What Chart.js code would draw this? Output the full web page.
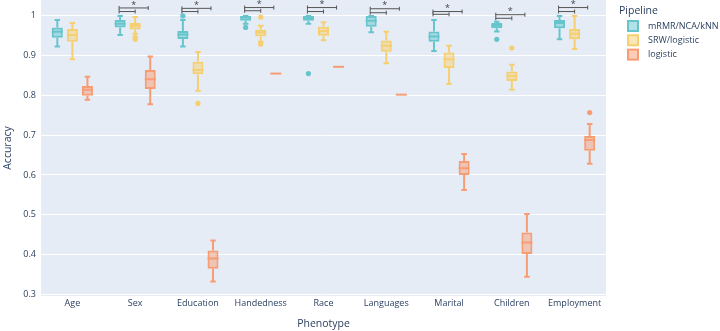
<!DOCTYPE html>
<html>
<head>
<meta charset="utf-8">
<title>Accuracy by phenotype</title>
<script src="https://cdn.jsdelivr.net/npm/chart.js@4.4.0/dist/chart.umd.min.js"></script>
<style>
  html, body { margin: 0; padding: 0; background: #fff; }
  #wrap { width: 720px; height: 331px; }
</style>
</head>
<body>
<div id="wrap"><canvas id="chart"></canvas></div>
<script>
// categories and series
const phenotypes = ["Age", "Sex", "Education", "Handedness", "Race", "Languages", "Marital", "Children", "Employment"];
const pipelines = ["mRMR/NCA/kNN", "SRW/logistic", "logistic"];

// each box: [min, q1, median, q3, max]
const knnBoxes = [
  [0.923, 0.945, 0.960, 0.971, 0.990],
  [0.952, 0.971, 0.980, 0.990, 1.000],
  [0.923, 0.942, 0.953, 0.962, 0.990],
  [0.980, 0.988, 0.996, 1.000, 1.000],
  [0.980, 0.988, 0.995, 1.000, 1.000],
  [0.959, 0.973, 0.988, 1.000, 1.000],
  [0.912, 0.935, 0.948, 0.961, 0.990],
  [0.961, 0.969, 0.976, 0.982, 0.985],
  [0.941, 0.969, 0.982, 0.990, 1.000]
];
const knnOutliers = [[], [], [1.0], [0.971], [0.855], [], [], [0.941], []];

const srwBoxes = [
  [0.891, 0.935, 0.952, 0.967, 0.982],
  [0.955, 0.966, 0.975, 0.982, 0.997],
  [0.812, 0.853, 0.864, 0.885, 0.909],
  [0.935, 0.948, 0.958, 0.965, 0.975],
  [0.939, 0.950, 0.962, 0.973, 0.984],
  [0.881, 0.910, 0.925, 0.938, 0.960],
  [0.829, 0.869, 0.891, 0.908, 0.925],
  [0.814, 0.836, 0.849, 0.860, 0.877],
  [0.917, 0.941, 0.955, 0.967, 1.000]
];
const srwOutliers = [[], [0.946, 0.941], [0.780], [0.997, 0.929], [], [], [], [0.919], []];

const logisticBoxes = [
  [0.789, 0.799, 0.814, 0.824, 0.847],
  [0.778, 0.816, 0.841, 0.864, 0.898],
  [0.332, 0.364, 0.390, 0.410, 0.435],
  [0.855, 0.855, 0.855, 0.855, 0.855],
  [0.872, 0.872, 0.872, 0.872, 0.872],
  [0.802, 0.802, 0.802, 0.802, 0.802],
  [0.562, 0.600, 0.617, 0.635, 0.653],
  [0.344, 0.401, 0.430, 0.455, 0.502],
  [0.628, 0.661, 0.688, 0.698, 0.728]
];
const logisticOutliers = [[], [], [], [], [], [], [], [], [0.757]];

// significance brackets (accuracy level of upper / lower bar), null = none
const sigUpper = [null, 1.020, 1.019, 1.021, 1.021, 1.018, 1.011, 1.003, 1.021];
const sigLower = [null, 1.011, 1.011, 1.013, 1.011, 1.008, 1.004, 0.994, 1.011];

const yTicks = [0.3, 0.4, 0.5, 0.6, 0.7, 0.8, 0.9, 1];

const allBoxes = [knnBoxes, srwBoxes, logisticBoxes];
const allOutliers = [knnOutliers, srwOutliers, logisticOutliers];
const lineColors = ["rgb(102, 197, 204)", "rgb(246, 207, 113)", "rgb(248, 156, 116)"];
const fillColors = ["rgba(102, 197, 204, 0.5)", "rgba(246, 207, 113, 0.5)", "rgba(248, 156, 116, 0.5)"];
const textColor = "#2a3f5f";
const fontFamily = "'Open Sans', Verdana, Arial, sans-serif";

const boxPlugin = {
  id: "boxes",
  beforeDraw(chart) {
    const { ctx, chartArea: a } = chart;
    ctx.save();
    ctx.fillStyle = "#e5ecf6";
    ctx.fillRect(a.left, a.top, a.right - a.left, a.bottom - a.top);
    ctx.restore();
  },
  afterDatasetsDraw(chart) {
    const ctx = chart.ctx;
    const y = chart.scales.y;

    // whiskers, medians, outliers
    allBoxes.forEach((boxes, i) => {
      const meta = chart.getDatasetMeta(i);
      ctx.save();
      ctx.strokeStyle = lineColors[i];
      ctx.fillStyle = lineColors[i];
      ctx.lineWidth = 2;
      boxes.forEach((b, j) => {
        const bar = meta.data[j];
        const x = bar.x, half = bar.width / 2, cap = bar.width / 4;
        const [mn, q1, md, q3, mx] = b.map(v => y.getPixelForValue(v));
        ctx.beginPath();
        ctx.moveTo(x, q3); ctx.lineTo(x, mx);
        ctx.moveTo(x, q1); ctx.lineTo(x, mn);
        if (mx !== mn) {
          ctx.moveTo(x - cap, mx); ctx.lineTo(x + cap, mx);
          ctx.moveTo(x - cap, mn); ctx.lineTo(x + cap, mn);
        }
        ctx.moveTo(x - half, md); ctx.lineTo(x + half, md);
        ctx.stroke();
        allOutliers[i][j].forEach(v => {
          ctx.beginPath();
          ctx.arc(x, y.getPixelForValue(v), 2.6, 0, Math.PI * 2);
          ctx.fill();
        });
      });
      ctx.restore();
    });

    // significance brackets
    const m0 = chart.getDatasetMeta(0), m1 = chart.getDatasetMeta(1), m2 = chart.getDatasetMeta(2);
    ctx.save();
    ctx.strokeStyle = "#555";
    ctx.fillStyle = "#444";
    ctx.lineWidth = 1;
    phenotypes.forEach((p, j) => {
      if (sigUpper[j] === null) return;
      const x0 = m0.data[j].x - 1, x1 = m1.data[j].x, x2 = m2.data[j].x - 2;
      const yu = y.getPixelForValue(sigUpper[j]);
      const yl = y.getPixelForValue(sigLower[j]);
      ctx.beginPath();
      ctx.moveTo(x0, yu); ctx.lineTo(x2, yu);
      ctx.moveTo(x0, yu - 2); ctx.lineTo(x0, yu + 2);
      ctx.moveTo(x2, yu - 2); ctx.lineTo(x2, yu + 2);
      ctx.moveTo(x0, yl); ctx.lineTo(x1, yl);
      ctx.moveTo(x0, yl - 2); ctx.lineTo(x0, yl + 2);
      ctx.moveTo(x1, yl - 2); ctx.lineTo(x1, yl + 2);
      ctx.stroke();
      ctx.font = "9px " + fontFamily;
      ctx.textAlign = "center";
      ctx.textBaseline = "middle";
      ctx.fillText("*", (x0 + x2) / 2, yu - 3);
    });
    ctx.restore();
  },
  afterDraw(chart) {
    // legend
    const ctx = chart.ctx;
    ctx.save();
    ctx.fillStyle = textColor;
    ctx.textBaseline = "middle";
    ctx.textAlign = "left";
    ctx.font = "10.5px " + fontFamily;
    ctx.fillText("Pipeline", 619, 11);
    ctx.font = "9px " + fontFamily;
    pipelines.forEach((name, i) => {
      const cy = 26 + i * 14.3;
      ctx.fillStyle = fillColors[i];
      ctx.fillRect(628, cy - 5, 10, 10);
      ctx.strokeStyle = lineColors[i];
      ctx.lineWidth = 2;
      ctx.strokeRect(628, cy - 5, 10, 10);
      ctx.fillStyle = textColor;
      ctx.fillText(name, 648, cy);
    });
    ctx.restore();
  }
};

new Chart(document.getElementById("chart"), {
  type: "bar",
  data: {
    labels: phenotypes,
    datasets: allBoxes.map((boxes, i) => ({
      label: pipelines[i],
      data: boxes.map(b => [b[1], b[3]]),
      backgroundColor: fillColors[i],
      borderColor: lineColors[i],
      borderWidth: 2,
      borderSkipped: false,
      categoryPercentage: 0.72,
      barPercentage: 0.73
    }))
  },
  options: {
    responsive: true,
    maintainAspectRatio: false,
    animation: false,
    layout: { padding: { left: 0, top: 0, right: 114, bottom: 0 } },
    plugins: { legend: { display: false }, tooltip: { enabled: false } },
    scales: {
      x: {
        grid: { display: false, drawTicks: false },
        border: { display: false },
        ticks: { padding: 2, color: textColor, font: { family: fontFamily, size: 9 }, maxRotation: 0, autoSkip: false },
        title: { display: true, text: "Phenotype", color: textColor, font: { family: fontFamily, size: 10.5 }, padding: { top: 0, bottom: 1 } },
        afterFit: s => { s.height = 35; }
      },
      y: {
        min: 0.2956,
        max: 1.04,
        afterBuildTicks: s => { s.ticks = yTicks.map(v => ({ value: v })); },
        grid: { color: "#ffffff", lineWidth: 1, drawTicks: false },
        border: { display: false },
        ticks: {
          padding: 5, color: textColor, font: { family: fontFamily, size: 9 },
          callback: v => v === 1 ? "1" : v.toFixed(1)
        },
        title: { display: true, text: "Accuracy", color: textColor, font: { family: fontFamily, size: 10.5 }, padding: { top: 2, bottom: 0 } },
        afterFit: s => { s.width = 41; s.paddingTop = 0; s.paddingBottom = 0; }
      }
    }
  },
  plugins: [boxPlugin]
});
</script>
</body>
</html>
